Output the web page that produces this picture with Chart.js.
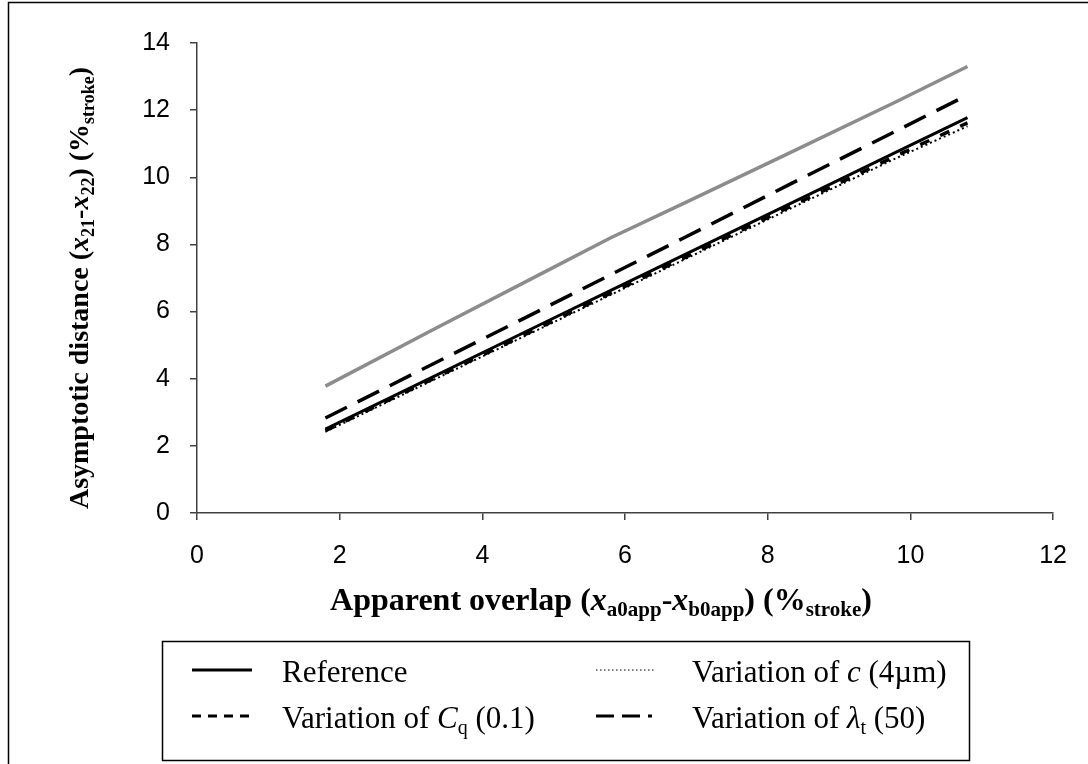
<!DOCTYPE html>
<html>
<head>
<meta charset="utf-8">
<script src="https://cdn.jsdelivr.net/npm/chart.js@4"></script>
<style>
  html, body { margin: 0; padding: 0; background: #fff; }
  #wrap { width: 1088px; height: 764px; position: relative; }
</style>
</head>
<body>
<div id="wrap"><canvas id="c" width="1088" height="764"></canvas></div>
<script>
// ---- data ----
const xValues      = [1.8, 3.3, 4.8, 5.8, 6.8, 8.3, 9.8, 10.8];
const upperGray    = [3.78, 5.45, 7.10, 8.20, 9.20, 10.72, 12.25, 13.30];
const lambdaT50    = [2.83, 4.43, 6.03, 7.10, 8.17, 9.78, 11.38, 12.45];
const reference    = [2.50, 4.05, 5.60, 6.63, 7.66, 9.20, 10.75, 11.78];
const cq01         = [2.45, 3.99, 5.52, 6.55, 7.57, 9.11, 10.64, 11.62];
const c4um         = [2.42, 3.95, 5.48, 6.50, 7.52, 9.05, 10.57, 11.52];
const xTicks = [0, 2, 4, 6, 8, 10, 12];
const yTicks = [0, 2, 4, 6, 8, 10, 12, 14];
const legendLabels = ["Reference", "Variation of c (4µm)", "Variation of Cq (0.1)", "Variation of λt (50)"];

const pts = arr => xValues.map((x, i) => ({x: x, y: arr[i]}));
const SERIF = '"Liberation Serif", "Times New Roman", serif';
const SANS = '"Liberation Sans", Arial, sans-serif';

function drawRich(ctx, segs, x, y, size, bold, measureOnly) {
  let w = 0;
  for (const s of segs) {
    const sz = s.sub ? Math.round(size * 0.66) : size;
    ctx.font = (s.i ? 'italic ' : '') + (bold ? 'bold ' : '') + sz + 'px ' + SERIF;
    if (!measureOnly) ctx.fillText(s.t, x + w, y + (s.sub ? size * 0.2 : 0));
    w += ctx.measureText(s.t).width;
  }
  return w;
}

const xTitle = [
  {t: 'Apparent overlap ('}, {t: 'x', i: true}, {t: 'a0app', sub: true}, {t: '-'},
  {t: 'x', i: true}, {t: 'b0app', sub: true}, {t: ') (%'}, {t: 'stroke', sub: true}, {t: ')'}
];
const yTitle = [
  {t: 'Asymptotic distance ('}, {t: 'x', i: true}, {t: '21', sub: true}, {t: '-'},
  {t: 'x', i: true}, {t: '22', sub: true}, {t: ') (%'}, {t: 'stroke', sub: true}, {t: ')'}
];
const legendRich = [
  [{t: 'Reference'}],
  [{t: 'Variation of '}, {t: 'c', i: true}, {t: ' (4µm)'}],
  [{t: 'Variation of '}, {t: 'C', i: true}, {t: 'q', sub: true}, {t: ' (0.1)'}],
  [{t: 'Variation of '}, {t: 'λ', i: true}, {t: 't', sub: true}, {t: ' (50)'}]
];
const legendDash = [[], [1.5, 2.5], [9, 7], [18, 8, 18, 8, 4, 8]];
const legendWidth = [3, 1, 3, 3];

const decor = {
  id: 'decor',
  afterDraw(chart) {
    const ctx = chart.ctx;
    ctx.save();
    // outer frame
    ctx.strokeStyle = '#000'; ctx.lineWidth = 1.5; ctx.setLineDash([]);
    ctx.beginPath();
    ctx.moveTo(8.5, 770); ctx.lineTo(8.5, 2.5); ctx.lineTo(1100, 2.5);
    ctx.stroke();
    ctx.fillStyle = '#000';
    ctx.textBaseline = 'alphabetic';
    // x title
    let w = drawRich(ctx, xTitle, 0, 0, 32, true, true);
    drawRich(ctx, xTitle, 601 - w / 2, 610, 32, true, false);
    // y title
    ctx.save();
    ctx.translate(88, 288);
    ctx.rotate(-Math.PI / 2);
    w = drawRich(ctx, yTitle, 0, 0, 28, true, true);
    drawRich(ctx, yTitle, -w / 2, 0, 28, true, false);
    ctx.restore();
    // legend box
    ctx.strokeStyle = '#000'; ctx.lineWidth = 1.5;
    ctx.strokeRect(162.5, 641.5, 807, 119);
    const cols = [{lx: 192, tx: 282}, {lx: 596, tx: 692}];
    const rows = [672, 718];
    const LF = 31;
    for (let k = 0; k < 4; k++) {
      const c = cols[k % 2], r = rows[Math.floor(k / 2)];
      ctx.beginPath();
      ctx.setLineDash(legendDash[k]);
      ctx.lineWidth = legendWidth[k];
      ctx.moveTo(c.lx, r - 2); ctx.lineTo(c.lx + 60, r - 2);
      ctx.stroke();
      ctx.setLineDash([]);
      drawRich(ctx, legendRich[k], c.tx, r + 10, LF, false, false);
    }
    ctx.restore();
  }
};

const axisColor = '#404040';
new Chart(document.getElementById('c'), {
  type: 'scatter',
  data: {
    datasets: [
      {label: 'Upper', data: pts(upperGray), borderColor: '#8c8c8c', borderWidth: 3.5, showLine: true, pointRadius: 0, order: 5},
      {label: legendLabels[3], data: pts(lambdaT50), borderColor: '#000', borderWidth: 3.5, borderDash: [24, 12], showLine: true, pointRadius: 0, order: 4},
      {label: legendLabels[1], data: pts(c4um), borderColor: '#000', borderWidth: 2, borderDash: [2, 3], showLine: true, pointRadius: 0, order: 3},
      {label: legendLabels[2], data: pts(cq01), borderColor: '#000', borderWidth: 3.5, borderDash: [10, 12], showLine: true, pointRadius: 0, order: 2},
      {label: legendLabels[0], data: pts(reference), borderColor: '#000', borderWidth: 3, showLine: true, pointRadius: 0, order: 1}
    ]
  },
  options: {
    responsive: false,
    animation: false,
    events: [],
    layout: {padding: {left: 0, top: 43, right: 34, bottom: 0}},
    plugins: {legend: {display: false}, tooltip: {enabled: false}, title: {display: false}},
    scales: {
      x: {
        type: 'linear', min: 0, max: 12,
        afterFit: s => { s.height = 251; },
        afterBuildTicks: s => { s.ticks = xTicks.map(v => ({value: v})); },
        border: {display: true, color: axisColor, width: 1.5},
        grid: {drawOnChartArea: false, drawTicks: true, tickLength: 7, color: axisColor, lineWidth: 1.5},
        ticks: {color: '#000', font: {family: SANS, size: 25}, padding: 21, maxRotation: 0}
      },
      y: {
        type: 'linear', min: 0, max: 14,
        afterFit: s => { s.width = 197; },
        afterBuildTicks: s => { s.ticks = yTicks.map(v => ({value: v})); },
        border: {display: true, color: axisColor, width: 1.5},
        grid: {drawOnChartArea: false, drawTicks: true, tickLength: 7, color: axisColor, lineWidth: 1.5},
        ticks: {color: '#000', font: {family: SANS, size: 25}, padding: 20}
      }
    }
  },
  plugins: [decor]
});
</script>
</body>
</html>
